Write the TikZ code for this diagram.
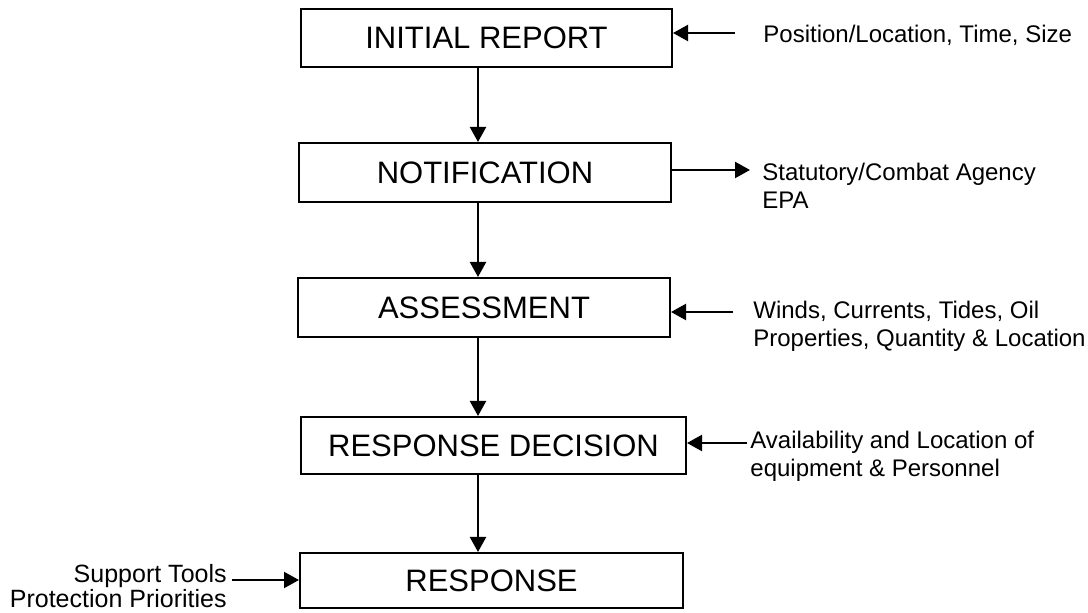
\documentclass[tikz,border=0pt]{standalone}
\usepackage{fontspec}
\setmainfont{Liberation Sans}
\usetikzlibrary{arrows.meta,calc}
\tikzset{
    stage/.style={draw, line width=1pt, inner sep=0pt, font=\fontsize{15.5}{18}\selectfont},
    note/.style={inner sep=0pt, align=left, font=\fontsize{12}{14}\selectfont},
    flow/.style={line width=1.1pt, -{Triangle[length=7.5pt,width=8pt]}}
}

\begin{document}
\begin{tikzpicture}[x=0.5pt, y=-0.5pt]
    \useasboundingbox (0, 0) rectangle (1088, 613);
    % main chain
    \node [stage, minimum width=185.5pt, minimum height=29pt] (report) at (486.5, 38) {INITIAL REPORT};
    \node [stage, minimum width=186pt, minimum height=29.5pt] (notify) at (485, 172.5) {NOTIFICATION};
    \node [stage, minimum width=186pt, minimum height=29.5pt] (assess) at (484, 307.5) {ASSESSMENT};
    \node [stage, minimum width=192.5pt, minimum height=28.5pt] (decide) at (493.5, 445.5) {RESPONSE DECISION};
    \node [stage, minimum width=191.5pt, minimum height=27.5pt] (respond) at (491.5, 580.5) {RESPONSE};
    \coordinate (spine) at (478, 0);
    \draw [flow] (report.south -| spine) -- (notify.north -| spine);
    \draw [flow] (notify.south -| spine) -- (assess.north -| spine);
    \draw [flow] (assess.south -| spine) -- (decide.north -| spine);
    \draw [flow] (decide.south -| spine) -- (respond.north -| spine);
    % inputs and outputs
    \node [note, anchor=west] (where) at (763, 35) {Position/Location, Time, Size};
    \coordinate (wheretail) at (735, 33);
    \draw [flow] (wheretail) -- (wheretail -| report.east);
    \node [note, anchor=west] (agency) at (762, 186) {Statutory/Combat Agency\\EPA};
    \coordinate (agencytip) at (750, 170);
    \draw [flow] (agencytip -| notify.east) -- (agencytip);
    \node [note, anchor=west] (weather) at (753, 326) {Winds, Currents, Tides, Oil\\Properties, Quantity \& Location};
    \coordinate (weathertail) at (733, 312);
    \draw [flow] (weathertail) -- (weathertail -| assess.east);
    \node [note, anchor=west] (gear) at (750, 456) {Availability and Location of\\equipment \& Personnel};
    \coordinate (geartail) at (747, 443);
    \draw [flow] (geartail) -- (geartail -| decide.east);
    \node [note, align=right, anchor=east, font=\fontsize{12.5}{11.5}\selectfont] (tools) at (227, 586) {Support Tools\\Protection Priorities};
    \coordinate (toolstail) at (232, 580);
    \draw [flow] (toolstail) -- (toolstail -| respond.west);
\end{tikzpicture}
\end{document}
